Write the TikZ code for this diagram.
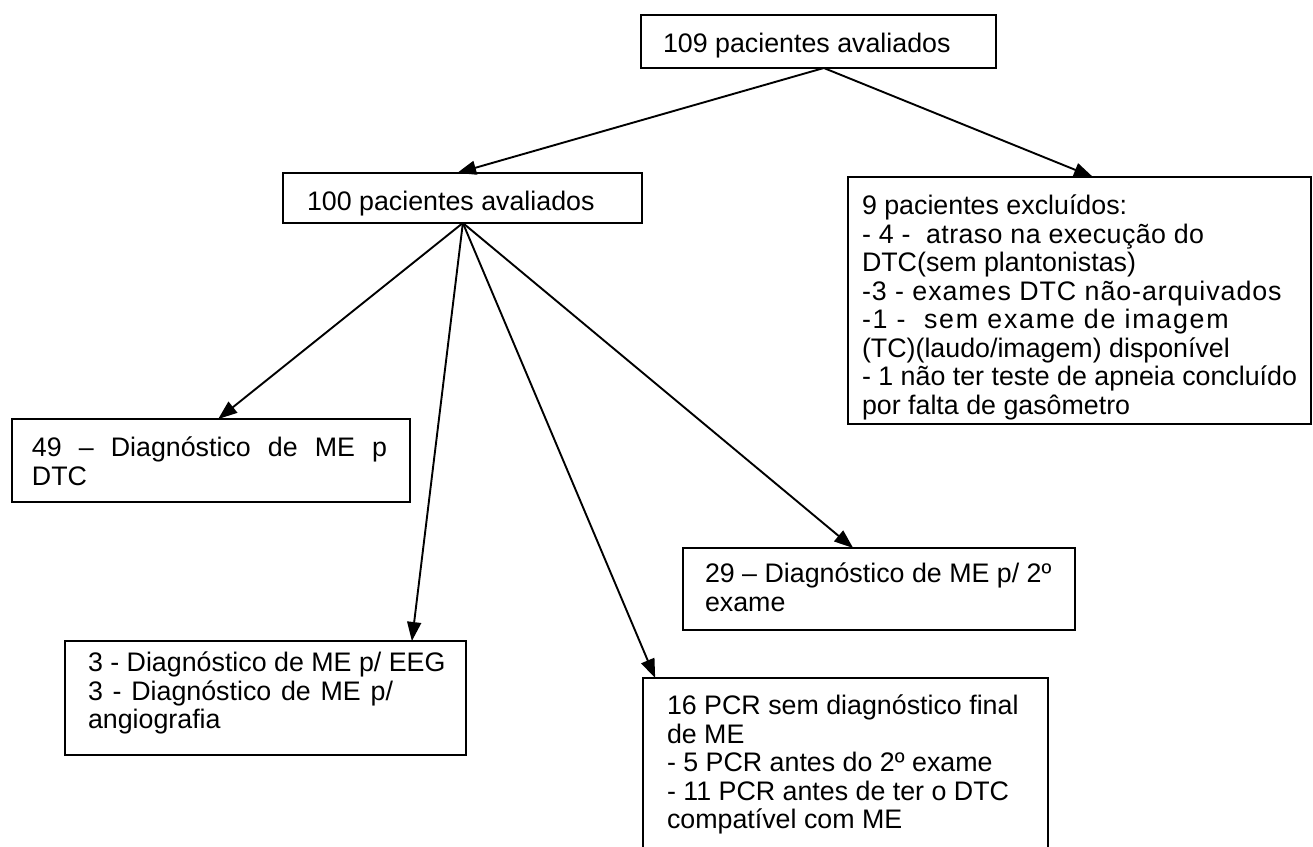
\documentclass[tikz,border=0pt]{standalone}
\usepackage{fontspec}
\setmainfont{Liberation Sans}
\usetikzlibrary{arrows.meta,calc}
% #1 width, #2 height, #3 left pad, #4 top pad, #5 text
\newcommand\bxtext[5]{\parbox[t][#2][t]{#1}{\lineskiplimit=-20pt\leftskip=#3\rightskip=0pt plus 1fil\parfillskip=0pt plus 1fil\vspace*{#4}\strut #5\par}}
\newcommand\lsp[2]{{\addfontfeature{LetterSpace=#1}#2}}
\tikzset{
  box/.style={draw, line width=1.3pt, inner sep=0pt, outer sep=0pt, anchor=north west,
    font=\fontsize{26.8}{28.5}\selectfont},
  arr/.style={line width=1.9pt, -{Triangle[length=19pt,width=14pt]}}
}
\begin{document}
\begin{tikzpicture}[x=1pt,y=-1pt]
\useasboundingbox (0,0) rectangle (1313,846);
\node[box] (b1) at (641,15) {\bxtext{355pt}{53pt}{22pt}{18pt}{109 pacientes avaliados}};
\node[box] (b2) at (283,173) {\bxtext{359pt}{50pt}{24pt}{18pt}{100 pacientes avaliados}};
\node[box] (b3) at (848,177) {\bxtext{463pt}{247pt}{14pt}{18pt}{9 pacientes excluídos:\\
\lsp{1.5}{- 4 -\ \ atraso na execução do}\\
DTC(sem plantonistas)\\
\lsp{3.5}{-3 - exames DTC não-arquivados}\\
\lsp{6.5}{-1 -\ \ sem exame de imagem}\\
(TC)(laudo/imagem) disponível\\
- 1 não ter teste de apneia concluído\\
por falta de gasômetro}};
\node[box] (b4) at (12,419) {\bxtext{398pt}{83pt}{20pt}{18pt}{\makebox[355pt][s]{49 – Diagnóstico de ME p}\\DTC}};
\node[box] (b5) at (65,641) {\bxtext{401pt}{114pt}{23pt}{11pt}{3 - Diagnóstico de ME p/ EEG\\
\makebox[305pt][s]{3 - Diagnóstico de ME p/}\\
angiografia}};
\node[box] (b6) at (643,678) {\bxtext{405pt}{174pt}{24pt}{17pt}{16 PCR sem diagnóstico final\\
de ME\\
- 5 PCR antes do 2º exame\\
- 11 PCR antes de ter o DTC\\
compatível com ME}};
\node[box] (b7) at (683,548) {\bxtext{392pt}{82pt}{22pt}{15pt}{29 – Diagnóstico de ME p/ 2º\\exame}};
\draw[arr] ($(b1.south west)!0.515!(b1.south east)$) -- ($(b2.north west)!0.485!(b2.north east)$);
\draw[arr] ($(b1.south west)!0.515!(b1.south east)$) -- ($(b3.north west)!0.529!(b3.north east)$);
\draw[arr] ($(b2.south west)!0.501!(b2.south east)$) -- ($(b4.north west)!0.518!(b4.north east)$);
\draw[arr] ($(b2.south west)!0.501!(b2.south east)$) -- ($(b5.north west)!0.865!(b5.north east)$);
\draw[arr] ($(b2.south west)!0.501!(b2.south east)$) -- ($(b6.north west)!0.030!(b6.north east)$);
\draw[arr] ($(b2.south west)!0.501!(b2.south east)$) -- ($(b7.north west)!0.434!(b7.north east)$);
\end{tikzpicture}
\end{document}
